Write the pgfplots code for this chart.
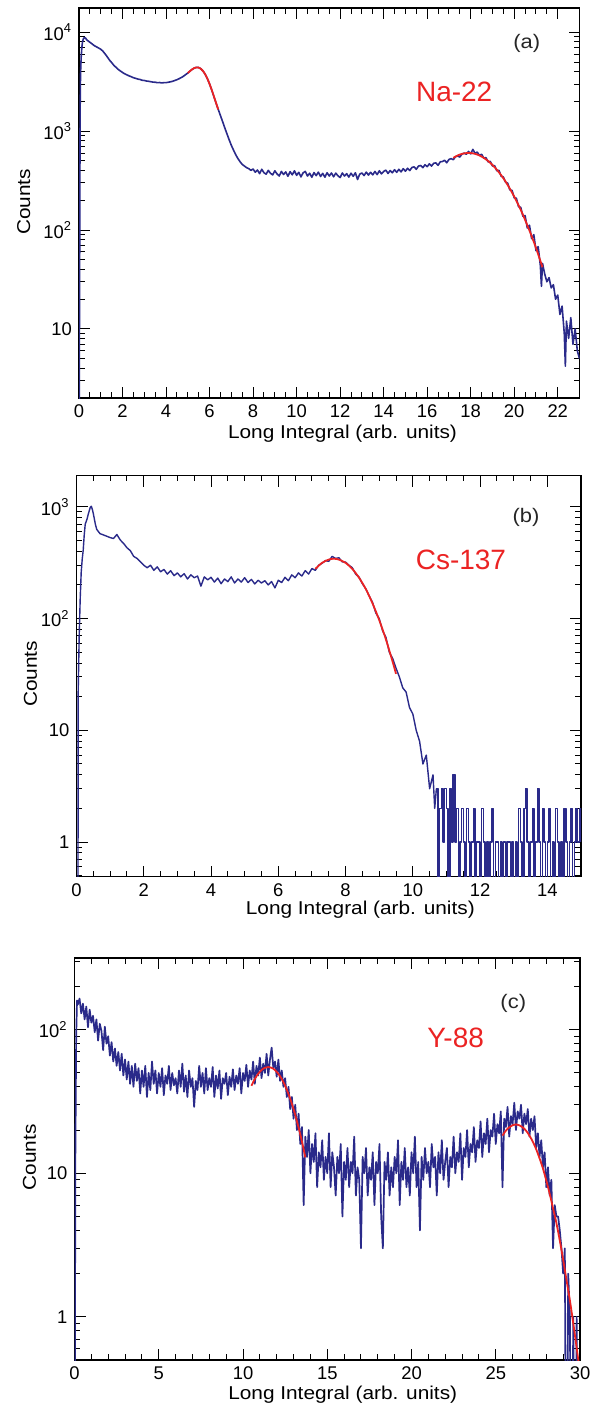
\documentclass[border=0pt]{standalone}
\usepackage{fontspec}
\setmainfont{Liberation Sans}
\newfontfamily\axfont{Liberation Sans}[FakeStretch=1.12]
\usepackage{pgfplots}
\pgfplotsset{compat=1.18}
\definecolor{histblue}{RGB}{42,42,138}
\definecolor{fitred}{RGB}{235,35,35}
\tikzset{
  tag/.style={font=\axfont\fontsize{9.8}{12}\selectfont, text=black!85},
  src/.style={font=\fontsize{14}{16}\selectfont, text=fitred},
}
\pgfplotsset{
  rootstyle/.style={
    scale only axis,
    axis line style={black, line width=0.6pt},
    tick style={black, line width=0.5pt},
    major tick length=5.5pt,
    minor tick length=2.8pt,
    tick align=inside,
    xtick pos=both, ytick pos=both,
    /pgf/number format/assume math mode=true,
    ticklabel style={font=\fontsize{9.2}{11}\selectfont},
    label style={font=\axfont\fontsize{9.3}{11}\selectfont},
    xlabel={Long Integral (arb. units)},
    ylabel={Counts},
  },
  hist/.style={histblue, line width=0.7pt, mark=none, line join=round},
  fit/.style={fitred, line width=0.9pt, smooth, mark=none},
}
\begin{document}
\begin{tikzpicture}
\path[use as bounding box] (0,0) rectangle (300pt,-703.5pt);
% ---------------- (a) Na-22
\begin{semilogyaxis}[rootstyle,
  at={(39.5pt,-199pt)}, anchor=south west,
  width=250.25pt, height=195pt,
  xmin=0, xmax=23, ymin=2, ymax=17650,
  xtick={0,2,...,22}, minor x tick num=3,
  ytick={10,100,1000,10000},
  yticklabels={{10},{10\textsuperscript{2}},{10\textsuperscript{3}},{10\textsuperscript{4}}},
  minor ytick={2,3,4,5,6,7,8,9,20,30,40,50,60,70,80,90,200,300,400,500,600,700,800,900,2000,3000,4000,5000,6000,7000,8000,9000},
  xlabel style={at={(axis description cs:0.5265,-0.0908)}, anchor=center},
  ylabel style={at={(axis description cs:-0.1105,0.503)}, anchor=center},
]
\addplot[hist, line width=0.8pt] table {
0.00 0.5
0.03 40
0.05 1500
0.07 3800
0.10 5600
0.13 7000
0.16 8000
0.20 8600
0.25 8900
0.30 8750
0.35 8450
0.40 8250
0.50 7950
0.60 7650
0.70 7350
0.80 7150
0.90 6950
1.00 6750
1.10 6450
1.20 6050
1.30 5650
1.40 5250
1.50 4950
1.60 4650
1.70 4430
1.80 4230
1.90 4070
2.00 3930
2.10 3810
2.20 3720
2.30 3630
2.40 3560
2.50 3480
2.60 3430
2.70 3370
2.80 3340
2.90 3280
3.00 3260
3.10 3220
3.20 3200
3.30 3170
3.40 3140
3.50 3130
3.60 3100
3.70 3110
3.80 3080
3.90 3100
4.00 3100
4.10 3130
4.20 3160
4.30 3200
4.40 3260
4.50 3320
4.60 3400
4.70 3490
4.80 3600
4.90 3740
5.00 3880
5.10 4060
5.20 4220
5.30 4360
5.40 4430
5.50 4410
5.60 4290
5.70 4060
5.80 3760
5.90 3400
6.00 3010
6.10 2610
6.20 2240
6.30 1920
6.40 1660
6.50 1440
6.60 1250
6.70 1080
6.80 940
6.90 820
7.00 720
7.10 645
7.20 580
7.30 530
7.40 492
7.50 462
7.60 445
7.70 428
7.80 418
7.90 402
8.00 415
8.10 385
8.20 405
8.30 372
8.40 412
8.50 380
8.60 368
8.70 402
8.80 375
8.90 362
9.00 398
9.10 370
9.20 352
9.30 392
9.40 365
9.50 388
9.60 350
9.70 390
9.80 362
9.90 398
10.00 358
10.10 384
10.20 345
10.30 380
10.40 392
10.50 352
10.60 376
10.70 342
10.80 382
10.90 355
11.00 386
11.10 348
11.20 375
11.30 343
11.40 380
11.50 352
11.60 378
11.70 346
11.80 377
11.90 354
12.00 340
12.10 378
12.20 352
12.30 372
12.40 344
12.50 376
12.60 350
12.70 380
12.80 325
12.90 368
13.00 378
13.10 356
13.20 386
13.30 360
13.40 384
13.50 362
13.60 392
13.70 364
13.80 398
13.90 370
14.00 392
14.10 404
14.20 374
14.30 400
14.40 380
14.50 408
14.60 384
14.70 412
14.80 388
14.90 418
15.00 394
15.10 422
15.20 400
15.30 430
15.40 436
15.50 412
15.60 444
15.70 450
15.80 428
15.90 458
16.00 438
16.10 468
16.20 444
16.30 474
16.40 478
16.50 452
16.60 490
16.70 494
16.80 508
16.90 480
17.00 518
17.10 528
17.20 515
17.30 552
17.40 562
17.50 548
17.60 588
17.70 600
17.80 585
17.90 625
18.00 590
18.10 655
18.20 598
18.30 615
18.40 570
18.50 585
18.60 535
18.70 540
18.80 490
18.90 495
19.00 445
19.10 448
19.20 398
19.30 402
19.40 350
19.50 345
19.60 305
19.70 298
19.80 255
19.90 252
20.00 212
20.10 210
20.20 172
20.30 170
20.40 138
20.50 140
20.60 105
20.70 112
20.80 82
20.90 90
21.00 62
21.10 68
21.20 44
21.25 27
21.30 46
21.40 36
21.50 30
21.60 33
21.70 26
21.80 28
21.90 20
22.00 22
22.10 14
22.20 17
22.30 9
22.35 4.2
22.40 12
22.50 8
22.60 13
22.70 7
22.80 10
22.90 6
23.00 5
};
\addplot[fit] coordinates {(5.0,3880) (5.1,4060) (5.2,4230) (5.3,4360) (5.4,4420) (5.5,4400) (5.6,4280) (5.7,4060) (5.8,3760) (5.9,3400) (6.0,3000) (6.1,2620) (6.2,2250) (6.3,1930) (6.4,1660)};
\addplot[fit] coordinates {(17.2,538) (17.4,569) (17.6,590) (17.8,601) (18.0,602) (18.2,590) (18.4,569) (18.6,538) (18.8,500) (19.0,456) (19.2,408) (19.4,359) (19.6,310) (19.8,262) (20.0,218) (20.2,178) (20.4,143) (20.6,112) (20.8,87) (21.0,66) (21.2,49) (21.3,42)};
\node[tag] at (rel axis cs:0.8945,0.908) {(a)};
\node[src] at (rel axis cs:0.7496,0.785) {Na-22};
\end{semilogyaxis}
% ---------------- (b) Cs-137
\begin{semilogyaxis}[rootstyle,
  at={(38.25pt,-438.35pt)}, anchor=south west,
  width=252.25pt, height=200.5pt,
  xmin=0, xmax=15, ymin=0.49, ymax=1897,
  xtick={0,2,...,14}, minor x tick num=3,
  ytick={1,10,100,1000},
  yticklabels={{1},{10},{10\textsuperscript{2}},{10\textsuperscript{3}}},
  minor ytick={0.5,0.6,0.7,0.8,0.9,2,3,4,5,6,7,8,9,20,30,40,50,60,70,80,90,200,300,400,500,600,700,800,900},
  xlabel style={at={(axis description cs:0.5625,-0.0828)}, anchor=center},
  ylabel style={at={(axis description cs:-0.091,0.506)}, anchor=center},
]
\addplot[hist] table {
0.00 0.01
0.04 0.01
0.05 22
0.08 70
0.11 150
0.14 260
0.17 340
0.20 410
0.23 560
0.26 700
0.29 740
0.32 790
0.35 860
0.38 920
0.41 990
0.44 1010
0.47 950
0.50 870
0.53 780
0.56 700
0.60 630
0.65 600
0.70 575
0.80 560
0.90 545
1.00 530
1.10 520
1.20 565
1.30 505
1.40 470
1.50 430
1.60 405
1.70 360
1.80 345
1.90 322
2.00 300
2.10 285
2.20 300
2.30 270
2.40 290
2.50 262
2.60 275
2.70 250
2.80 268
2.90 242
3.00 256
3.10 236
3.20 252
3.30 226
3.40 246
3.50 232
3.60 240
3.70 195
3.80 236
3.90 222
4.00 234
4.10 212
4.20 230
4.30 205
4.40 226
4.50 214
4.60 236
4.70 208
4.80 226
4.90 212
5.00 232
5.10 210
5.20 224
5.30 204
5.40 220
5.50 208
5.60 218
5.70 200
5.80 214
5.90 188
6.00 220
6.10 210
6.20 234
6.30 218
6.40 246
6.50 232
6.60 256
6.70 240
6.80 268
6.90 250
7.00 280
7.10 270
7.20 300
7.30 312
7.40 330
7.50 325
7.60 360
7.70 345
7.80 350
7.90 322
8.00 320
8.10 300
8.20 285
8.30 250
8.40 235
8.50 205
8.60 185
8.70 160
8.80 140
8.90 112
9.00 100
9.10 78
9.20 68
9.30 50
9.40 44
9.50 36
9.60 30
9.70 24
9.80 22
9.90 16
10.00 14
10.10 10
10.20 8
10.30 5
10.40 6
10.50 3
10.60 4
10.65 2
10.70 3
};
\addplot[hist, const plot] table {
10.70 3
10.75 0.01
10.80 2
10.85 3
10.90 1
10.95 3
11.00 2
11.05 0.01
11.10 3
11.15 1
11.20 4
11.25 1
11.30 2
11.35 0.01
11.40 1
11.45 2
11.50 1
11.55 0.01
11.60 2
11.65 1
11.70 0.01
11.75 1
11.80 2
11.85 0.01
11.90 1
11.95 1
12.00 0.01
12.05 2
12.10 1
12.15 0.01
12.20 1
12.25 0.01
12.30 1
12.35 2
12.40 0.01
12.45 1
12.50 1
12.55 0.01
12.60 1
12.65 0.01
12.70 1
12.75 0.01
12.80 1
12.85 1
12.90 0.01
12.95 1
13.00 0.01
13.05 1
13.10 0.01
13.15 2
13.20 1
13.25 0.01
13.30 2
13.35 3
13.40 1
13.45 0.01
13.50 1
13.55 2
13.60 0.01
13.65 1
13.70 3
13.75 1
13.80 0.01
13.85 2
13.90 1
13.95 0.01
14.00 1
14.05 2
14.10 0.01
14.15 1
14.20 0.01
14.25 2
14.30 1
14.35 0.01
14.40 1
14.45 0.01
14.50 2
14.55 1
14.60 0.01
14.65 1
14.70 2
14.75 0.01
14.80 1
14.85 2
14.90 1
14.95 2
15.00 1
};
\addplot[fit] coordinates {(7.1,278) (7.3,315) (7.5,337) (7.65,343) (7.8,337) (8.0,315) (8.2,278) (8.4,232) (8.6,184) (8.8,137) (9.0,97) (9.2,65) (9.4,41) (9.5,32)};
\node[tag] at (rel axis cs:0.891,0.896) {(b)};
\node[src] at (rel axis cs:0.762,0.789) {Cs-137};
\end{semilogyaxis}
% ---------------- (c) Y-88
\begin{semilogyaxis}[rootstyle,
  at={(37.25pt,-680pt)}, anchor=south west,
  width=252.75pt, height=201pt,
  xmin=0, xmax=30, ymin=0.5, ymax=316,
  xtick={0,5,...,30}, minor x tick num=4,
  ytick={1,10,100},
  yticklabels={{1},{10},{10\textsuperscript{2}}},
  minor ytick={0.5,0.6,0.7,0.8,0.9,2,3,4,5,6,7,8,9,20,30,40,50,60,70,80,90,200,300},
  xlabel style={at={(axis description cs:0.5306,-0.0871)}, anchor=center},
  ylabel style={at={(axis description cs:-0.0892,0.504)}, anchor=center},
]
\addplot[hist, line width=0.85pt] table {
0.00 0.01
0.05 12
0.10 90
0.15 160
0.20 150
0.30 165
0.40 130
0.50 152
0.60 118
0.70 145
0.80 104
0.90 138
1.00 112
1.10 125
1.20 96
1.30 118
1.40 84
1.50 110
1.60 98
1.70 72
1.80 105
1.90 80
2.00 90
2.10 66
2.20 82
2.30 60
2.40 74
2.50 56
2.60 70
2.70 52
2.80 68
2.90 48
3.00 62
3.10 45
3.20 60
3.30 42
3.40 56
3.50 40
3.60 58
3.70 44
3.80 54
3.90 36
4.00 52
4.10 40
4.20 56
4.30 34
4.40 50
4.50 38
4.60 60
4.70 42
4.80 52
4.90 36
5.00 50
5.10 40
5.20 54
5.30 35
5.40 48
5.50 42
5.60 56
5.70 38
5.80 50
5.90 41
6.00 46
6.10 36
6.20 52
6.30 40
6.40 58
6.50 37
6.60 48
6.70 34
6.80 52
6.90 40
7.00 46
7.10 29
7.20 44
7.30 38
7.40 56
7.50 40
7.60 50
7.70 36
7.80 54
7.90 38
8.00 46
8.10 40
8.20 55
8.30 34
8.40 48
8.50 39
8.60 52
8.70 33
8.80 46
8.90 42
9.00 50
9.10 35
9.20 47
9.30 40
9.40 53
9.50 38
9.60 48
9.70 42
9.80 54
9.90 36
10.00 50
10.10 44
10.20 57
10.30 40
10.40 52
10.50 45
10.60 60
10.70 42
10.80 56
10.90 48
11.00 64
11.10 46
11.20 58
11.30 50
11.40 68
11.50 48
11.60 62
11.70 75
11.80 54
11.90 60
12.00 47
12.10 62
12.20 44
12.30 52
12.40 40
12.50 46
12.60 34
12.70 40
12.80 28
12.90 34
13.00 24
13.10 30
13.20 20
13.30 26
13.40 16
13.50 21
13.60 6
13.70 18
13.80 13
13.90 20
14.00 10
14.10 16
14.20 12
14.30 19
14.40 8
14.50 14
14.60 11
14.70 17
14.80 9
14.90 13
15.00 10
15.10 19
15.20 8
15.30 14
15.40 11
15.50 7
15.60 13
15.70 10
15.80 16
15.90 5
16.00 12
16.10 9
16.20 15
16.30 8
16.40 12
16.50 10
16.60 18
16.70 7
16.80 11
16.90 9
17.00 3
17.10 13
17.20 10
17.30 15
17.40 7
17.50 11
17.60 9
17.70 14
17.80 6
17.90 12
18.00 10
18.10 16
18.20 5
18.30 3
18.40 12
18.50 9
18.60 14
18.70 7
18.80 11
18.90 8
19.00 13
19.10 10
19.20 17
19.30 6
19.40 12
19.50 9
19.60 15
19.70 8
19.80 11
19.90 7
20.00 14
20.10 10
20.20 18
20.30 8
20.40 12
20.50 4
20.60 13
20.70 9
20.80 15
20.90 10
21.00 12
21.10 8
21.20 16
21.30 11
21.40 13
21.50 7
21.60 14
21.70 10
21.80 17
21.90 9
22.00 12
22.10 15
22.20 8
22.30 13
22.40 11
22.50 18
22.60 10
22.70 14
22.80 12
22.90 19
23.00 9
23.10 15
23.20 13
23.30 20
23.40 11
23.50 16
23.60 14
23.70 21
23.80 12
23.90 17
24.00 15
24.10 23
24.20 13
24.30 19
24.40 16
24.50 24
24.60 14
24.70 20
24.80 18
24.90 26
25.00 16
25.10 22
25.20 19
25.30 27
25.40 8
25.50 24
25.60 21
25.70 29
25.80 18
25.90 25
26.00 22
26.10 31
26.20 20
26.30 27
26.40 24
26.50 30
26.60 19
26.70 26
26.80 22
26.90 28
27.00 18
27.10 24
27.20 20
27.30 25
27.40 15
27.50 19
27.60 13
27.70 17
27.80 11
27.90 14
28.00 8
28.10 11
28.20 7
28.30 9
28.40 3
28.50 6
28.60 5
28.70 5
28.80 4
28.90 3
29.00 2
29.10 3
29.20 0.01
29.30 2
29.40 1
29.50 0.01
29.60 1
29.70 0.01
29.80 1
29.90 0.01
30.00 0.01
};
\addplot[fit] coordinates {(10.5,40.7) (10.7,45.4) (10.9,49.3) (11.1,52.4) (11.3,54.3) (11.5,55.0) (11.7,54.3) (11.9,52.4) (12.1,49.3) (12.3,45.4) (12.5,40.7) (12.7,35.7) (12.9,30.5) (13.1,25.5) (13.3,20.8) (13.5,16.6) (13.7,12.9)};
\addplot[fit] coordinates {(25.4,18.3) (25.6,19.8) (25.8,20.9) (26.0,21.6) (26.2,21.9) (26.4,21.6) (26.6,20.9) (26.8,19.8) (27.0,18.3) (27.2,16.6) (27.4,14.7) (27.6,12.7) (27.8,10.8) (28.0,8.9) (28.2,7.2) (28.4,5.7) (28.6,4.5) (28.8,3.4) (29.0,2.5) (29.2,1.8) (29.4,1.3) (29.6,0.9) (29.8,0.61) (29.95,0.45)};
\node[tag] at (rel axis cs:0.868,0.888) {(c)};
\node[src] at (rel axis cs:0.754,0.802) {Y-88};
\end{semilogyaxis}
\end{tikzpicture}
\end{document}
